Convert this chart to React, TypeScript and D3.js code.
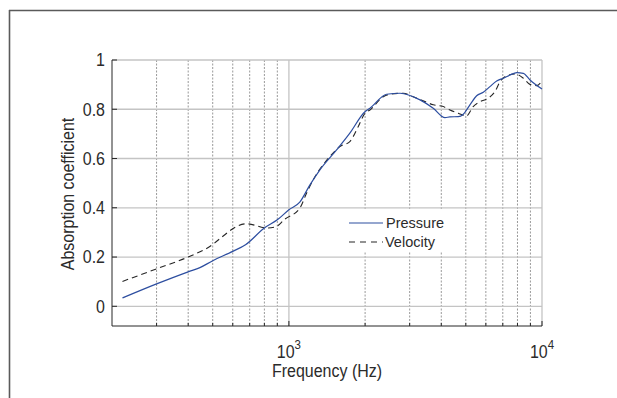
import React from "react";
import * as d3 from "d3";

// Measured absorption coefficient, pressure-based estimate
const pressureFreq = [220, 300, 400, 445, 500, 600, 674, 800, 900, 1000, 1104, 1211, 1326, 1543, 1741, 1997, 2090, 2432, 2748, 3296, 3718, 4137, 4327, 4667, 4886, 5190, 5518, 5862, 6228, 6620, 7032, 7476, 7946, 8440, 8970, 10000];
const pressureAlpha = [0.034, 0.091, 0.14, 0.157, 0.185, 0.223, 0.25, 0.318, 0.351, 0.392, 0.423, 0.493, 0.554, 0.635, 0.703, 0.79, 0.804, 0.861, 0.865, 0.838, 0.804, 0.766, 0.769, 0.77, 0.78, 0.818, 0.855, 0.869, 0.892, 0.915, 0.926, 0.939, 0.949, 0.946, 0.919, 0.882];

// Measured absorption coefficient, velocity-based estimate
const velocityFreq = [220, 300, 400, 464, 680, 823, 884, 964, 1105, 1175, 1248, 1452, 1591, 1741, 1880, 1997, 2090, 2359, 2507, 2832, 3098, 3451, 3718, 4073, 4327, 4667, 5035, 5347, 5689, 6133, 6520, 6826, 7249, 7818, 8440, 8970, 9526, 10000];
const velocityAlpha = [0.101, 0.152, 0.2, 0.23, 0.335, 0.318, 0.322, 0.354, 0.399, 0.46, 0.514, 0.608, 0.649, 0.669, 0.73, 0.784, 0.797, 0.851, 0.861, 0.865, 0.851, 0.831, 0.818, 0.811, 0.797, 0.784, 0.773, 0.811, 0.831, 0.845, 0.872, 0.912, 0.936, 0.943, 0.926, 0.901, 0.896, 0.915];

const yTicks = [0, 0.2, 0.4, 0.6, 0.8, 1];
const yTickLabels = ["0", "0.2", "0.4", "0.6", "0.8", "1"];
const xMajorTicks = [1000, 10000];
const xMajorExponents = ["3", "4"];
const xMinorTicks = [300, 400, 500, 600, 700, 800, 900, 2000, 3000, 4000, 5000, 6000, 7000, 8000, 9000];

const seriesNames = ["Pressure", "Velocity"];

const FONT = "'Liberation Sans', Arial, Helvetica, sans-serif";
const TEXT = "#2b2b2b";
// slightly tall lettering for axis text
const STRETCH = 1.1;

export default function App() {
  const width = 617;
  const height = 398;
  const left = 112;
  const right = 542;
  const top = 60;
  const bottom = 326;

  const x = d3.scaleLog().domain([200, 10000]).range([left, right]);
  const y = d3.scaleLinear().domain([-0.08, 1]).range([bottom, top]);

  const line = d3
    .line<[number, number]>()
    .x((d) => x(d[0]))
    .y((d) => y(d[1]))
    .curve(d3.curveMonotoneX);

  const pressure = pressureFreq.map((f, i) => [f, pressureAlpha[i]] as [number, number]);
  const velocity = velocityFreq.map((f, i) => [f, velocityAlpha[i]] as [number, number]);

  const legendX = 349;
  const legendY = 223;

  return (
    <svg
      width={width}
      height={height}
      style={{ position: "absolute", left: 0, top: 0, background: "#fff" }}
      fontFamily={FONT}
    >
      <rect x={0} y={0} width={width} height={height} fill="#fff" />
      {/* figure frame */}
      <line x1={9} x2={width} y1={10.5} y2={10.5} stroke="#5a5a5a" strokeWidth={1.6} />
      <line x1={9.5} x2={9.5} y1={10} y2={height} stroke="#5a5a5a" strokeWidth={1.6} />

      {/* minor vertical grid */}
      {xMinorTicks.map((t) => (
        <line
          key={"mg" + t}
          x1={x(t)}
          x2={x(t)}
          y1={top}
          y2={bottom}
          stroke="#999"
          strokeWidth={1}
          strokeDasharray="2,1.5"
        />
      ))}
      {/* major grid */}
      {yTicks.map((t) => (
        <line key={"hg" + t} x1={left} x2={right} y1={y(t)} y2={y(t)} stroke="#c4c4c4" strokeWidth={1.3} />
      ))}
      {xMajorTicks.map((t) => (
        <line key={"vg" + t} x1={x(t)} x2={x(t)} y1={top} y2={bottom} stroke="#c4c4c4" strokeWidth={1.3} />
      ))}

      {/* legend background */}
      <rect x={342} y={209} width={116} height={42} fill="#fff" />

      {/* data */}
      <path d={line(velocity) ?? ""} fill="none" stroke="#262626" strokeWidth={1.1} strokeDasharray="6,4" />
      <path d={line(pressure) ?? ""} fill="none" stroke="#2d4ea0" strokeWidth={1.2} />

      {/* axes */}
      <line x1={left} x2={left} y1={top} y2={bottom} stroke="#262626" strokeWidth={1} />
      <line x1={left} x2={right} y1={bottom} y2={bottom} stroke="#262626" strokeWidth={1} />
      {yTicks.map((t, i) => (
        <g key={"yt" + t}>
          <line x1={left} x2={left + 5} y1={y(t)} y2={y(t)} stroke="#262626" strokeWidth={1} />
          <g transform={`translate(105, ${y(t)}) scale(1, ${STRETCH})`}>
            <text x={0} y={0} dy="0.36em" textAnchor="end" fontSize={16} fill={TEXT}>
              {yTickLabels[i]}
            </text>
          </g>
        </g>
      ))}
      {xMinorTicks.map((t) => (
        <line key={"xm" + t} x1={x(t)} x2={x(t)} y1={bottom} y2={bottom - 3} stroke="#262626" strokeWidth={1} />
      ))}
      {xMajorTicks.map((t, i) => (
        <g key={"xt" + t}>
          <line x1={x(t)} x2={x(t)} y1={bottom} y2={bottom - 5} stroke="#262626" strokeWidth={1} />
          <g transform={`translate(${x(t)}, 358) scale(1, ${STRETCH})`}>
            <text x={0} y={0} textAnchor="middle" fontSize={16} fill={TEXT}>
              10
              <tspan dy={-8.5} fontSize={11.5}>
                {xMajorExponents[i]}
              </tspan>
            </text>
          </g>
        </g>
      ))}

      {/* axis titles */}
      <g transform={`translate(${(left + right) / 2}, 377) scale(1, ${STRETCH})`}>
        <text x={0} y={0} textAnchor="middle" fontSize={16} fill={TEXT}>
          Frequency (Hz)
        </text>
      </g>
      <g transform={`translate(74, ${(top + bottom) / 2 + 1}) rotate(-90) scale(1, ${STRETCH})`}>
        <text x={0} y={0} textAnchor="middle" fontSize={16} fill={TEXT}>
          Absorption coefficient
        </text>
      </g>

      {/* legend */}
      <line x1={legendX} x2={legendX + 34} y1={legendY} y2={legendY} stroke="#2d4ea0" strokeWidth={1.2} />
      <text x={legendX + 37} y={legendY + 5} fontSize={14.5} fill={TEXT}>
        {seriesNames[0]}
      </text>
      <line
        x1={legendX}
        x2={legendX + 34}
        y1={legendY + 19}
        y2={legendY + 19}
        stroke="#262626"
        strokeWidth={1.1}
        strokeDasharray="6,5"
      />
      <text x={legendX + 36} y={legendY + 24} fontSize={14.5} fill={TEXT}>
        {seriesNames[1]}
      </text>
    </svg>
  );
}
